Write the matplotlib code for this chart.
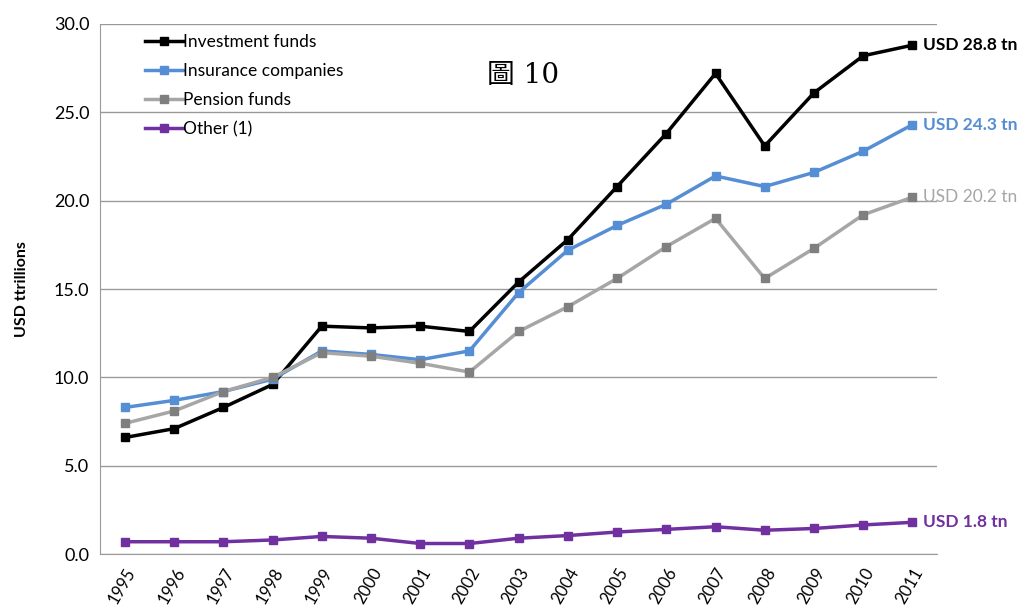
import matplotlib
matplotlib.use('Agg')
import matplotlib.pyplot as plt
import numpy as np

years = [str(y) for y in range(1995, 2012)]
investment = [6.6, 7.1, 8.3, 9.6, 12.9, 12.8, 12.9, 12.6, 15.4, 17.8, 20.8, 23.8, 27.2, 23.1, 26.1, 28.2, 28.8]
insurance = [8.3, 8.7, 9.2, 9.9, 11.5, 11.3, 11.0, 11.5, 14.8, 17.2, 18.6, 19.8, 21.4, 20.8, 21.6, 22.8, 24.3]
pension = [7.4, 8.1, 9.2, 10.0, 11.4, 11.2, 10.8, 10.3, 12.6, 14.0, 15.6, 17.4, 19.0, 15.6, 17.3, 19.2, 20.2]
other = [0.7, 0.7, 0.7, 0.8, 1.0, 0.9, 0.6, 0.6, 0.9, 1.05, 1.25, 1.4, 1.55, 1.35, 1.45, 1.65, 1.8]

series = [
    ("Investment funds", investment, "#000000", "#000000"),
    ("Insurance companies", insurance, "#558ED5", "#558ED5"),
    ("Pension funds", pension, "#A6A6A6", "#7F7F7F"),
    ("Other (1)", other, "#7030A0", "#7030A0"),
]
end_labels = ["USD 28.8 tn", "USD 24.3 tn", "USD 20.2 tn", "USD 1.8 tn"]

plt.rcParams['font.family'] = ['Lato', 'DejaVu Sans']

fig = plt.figure(figsize=(10.24, 6.15), dpi=100)
ax = fig.add_axes([0.098, 0.099, 0.817, 0.862])

x = np.arange(len(years))
for (name, vals, col, mcol), lab in zip(series, end_labels):
    ax.plot(x, vals, color=col, lw=2.5, marker='s', ms=6, mfc=mcol, mec=mcol, label=name)
    weight = 'normal' if name == "Pension funds" else 'bold'
    ax.annotate(lab, (x[-1], vals[-1]), xytext=(8, 0), textcoords='offset points',
                color=col, fontsize=12.5, fontweight=weight, va='center', ha='left',
                annotation_clip=False)

ax.set_xlim(-0.5, len(years) - 0.5)
ax.set_ylim(0, 30)
ax.set_yticks(np.arange(0, 30.1, 5))
ax.set_yticklabels([f"{v:.1f}" for v in np.arange(0, 30.1, 5)], fontsize=13)
ax.set_xticks(x)
ax.set_xticklabels(years, rotation=60, fontsize=12, ha='right', rotation_mode='anchor')
ax.tick_params(axis='both', length=0, pad=8)
ax.grid(axis='y', color='#9A9A9A', lw=1)
ax.set_axisbelow(True)
for s in ['top', 'right']:
    ax.spines[s].set_visible(False)
for s in ['left', 'bottom']:
    ax.spines[s].set_color('#9A9A9A')
ax.set_ylabel("USD ttrillions", fontsize=11.5, fontweight='bold', labelpad=18)

leg = ax.legend(loc='upper left', bbox_to_anchor=(0.035, 1.011), frameon=False, fontsize=12.5,
                handlelength=2.2, handletextpad=0.0, labelspacing=0.75)

fig.text(0.476, 0.878, "圖 10", fontsize=20, va='center',
         family=['DejaVu Serif', 'Noto Sans CJK TC'])

fig.savefig('out.png', dpi=100)
